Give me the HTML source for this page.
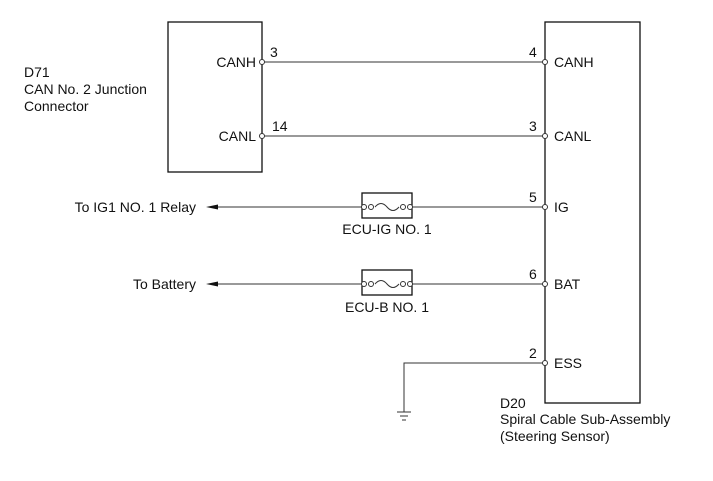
<!DOCTYPE html>
<html><head><meta charset="utf-8"><style>
html,body{margin:0;padding:0;background:#fff;}
svg{display:block;}
text{font-family:"Liberation Sans",Arial,sans-serif;font-size:14px;fill:#111;}
</style></head><body>
<svg width="713" height="481" viewBox="0 0 713 481" xmlns="http://www.w3.org/2000/svg">
<g fill="none" stroke="#111" stroke-width="1.3">
<rect x="168" y="22" width="94" height="150"/>
<rect x="545" y="22" width="95" height="381"/>
</g>
<g stroke="#333" stroke-width="1" fill="none">
<line x1="262" y1="62" x2="545" y2="62"/>
<line x1="262" y1="136" x2="545" y2="136"/>
<line x1="214" y1="207" x2="362" y2="207"/>
<line x1="412" y1="207" x2="545" y2="207"/>
<line x1="214" y1="284" x2="362" y2="284"/>
<line x1="412" y1="284" x2="545" y2="284"/>
<polyline points="545,363 404,363 404,412"/>
<line x1="397" y1="412" x2="411" y2="412"/>
<line x1="400" y1="416" x2="408" y2="416"/>
<line x1="402" y1="420" x2="406" y2="420"/>
<rect x="362" y="193" width="50" height="25" stroke="#111" stroke-width="1.3"/>
<rect x="362" y="270" width="50" height="25" stroke="#111" stroke-width="1.3"/>
<path d="M375,207 Q381,200 387,207 T399,207"/>
<path d="M375,284 Q381,277 387,284 T399,284"/>
</g>
<g fill="#fff" stroke="#333" stroke-width="1">
<circle cx="262" cy="62" r="2.5"/><circle cx="262" cy="136" r="2.5"/>
<circle cx="545" cy="62" r="2.5"/><circle cx="545" cy="136" r="2.5"/>
<circle cx="545" cy="207" r="2.5"/><circle cx="545" cy="284" r="2.5"/>
<circle cx="545" cy="363" r="2.5"/>
<circle cx="364" cy="207" r="2.5"/><circle cx="371" cy="207" r="2.5"/>
<circle cx="403" cy="207" r="2.5"/><circle cx="410" cy="207" r="2.5"/>
<circle cx="364" cy="284" r="2.5"/><circle cx="371" cy="284" r="2.5"/>
<circle cx="403" cy="284" r="2.5"/><circle cx="410" cy="284" r="2.5"/>
</g>
<polygon points="206,207 218,204.5 218,209.5" fill="#111"/>
<polygon points="206,284 218,281.5 218,286.5" fill="#111"/>
<text x="24" y="77">D71</text>
<text x="24" y="94">CAN No. 2 Junction</text>
<text x="24" y="111">Connector</text>
<text x="256" y="67" text-anchor="end">CANH</text>
<text x="256" y="141" text-anchor="end">CANL</text>
<text x="270" y="57">3</text>
<text x="272" y="131">14</text>
<text x="529" y="57">4</text>
<text x="529" y="131">3</text>
<text x="529" y="202">5</text>
<text x="529" y="279">6</text>
<text x="529" y="358">2</text>
<text x="554" y="67">CANH</text>
<text x="554" y="141">CANL</text>
<text x="554" y="212">IG</text>
<text x="554" y="289">BAT</text>
<text x="554" y="368">ESS</text>
<text x="196" y="212" text-anchor="end">To IG1 NO. 1 Relay</text>
<text x="196" y="289" text-anchor="end">To Battery</text>
<text x="387" y="234" text-anchor="middle">ECU-IG NO. 1</text>
<text x="387" y="312" text-anchor="middle">ECU-B NO. 1</text>
<text x="500" y="408">D20</text>
<text x="500" y="424">Spiral Cable Sub-Assembly</text>
<text x="500" y="441">(Steering Sensor)</text>
</svg>
</body></html>
